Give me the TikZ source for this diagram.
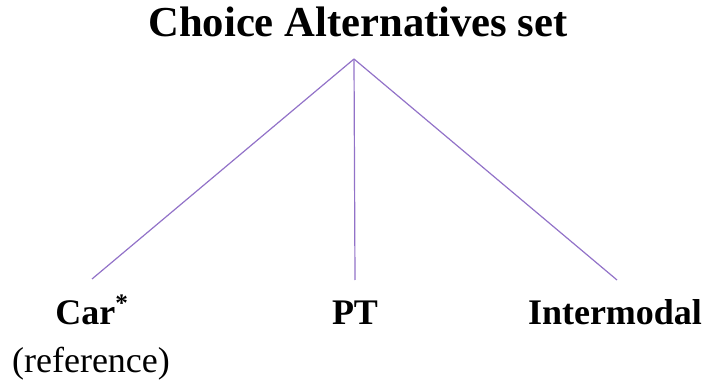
\documentclass[tikz,border=0pt]{standalone}
\usepackage{fontspec}
\setmainfont{Liberation Serif}
\usepackage{tikz}
\usetikzlibrary{positioning}
\definecolor{Branch}{HTML}{9272C8}

\begin{document}
\begin{tikzpicture}[x=0.75pt,y=-0.75pt,
        branch/.style={draw=Branch,line width=0.9pt},
        alt/.style={anchor=base,inner sep=0pt,font=\fontsize{27}{32}\selectfont\bfseries},
        head/.style={anchor=base,inner sep=0pt,font=\fontsize{32}{38}\selectfont\bfseries}]
        \useasboundingbox (0,0) rectangle (707,381);
        \node[head] (title) at (358,37) {Choice Alternatives set};
        \coordinate (root) at (354,59);
        \node[alt] (car) at (92,324) {Car\textsuperscript{*}};
        \node[alt,font=\fontsize{27}{32}\selectfont] (carref) at (91,372) {(reference)};
        \node[alt] (pt) at (355,324) {PT};
        \node[alt] (inter) at (615,324) {Intermodal};
        \coordinate (carend) at (92,279);
        \coordinate (ptend) at (355,280);
        \coordinate (interend) at (617,280);
        \draw[branch] (root) -- (carend);
        \draw[branch] (root) -- (ptend);
        \draw[branch] (root) -- (interend);
      \end{tikzpicture}
\end{document}
